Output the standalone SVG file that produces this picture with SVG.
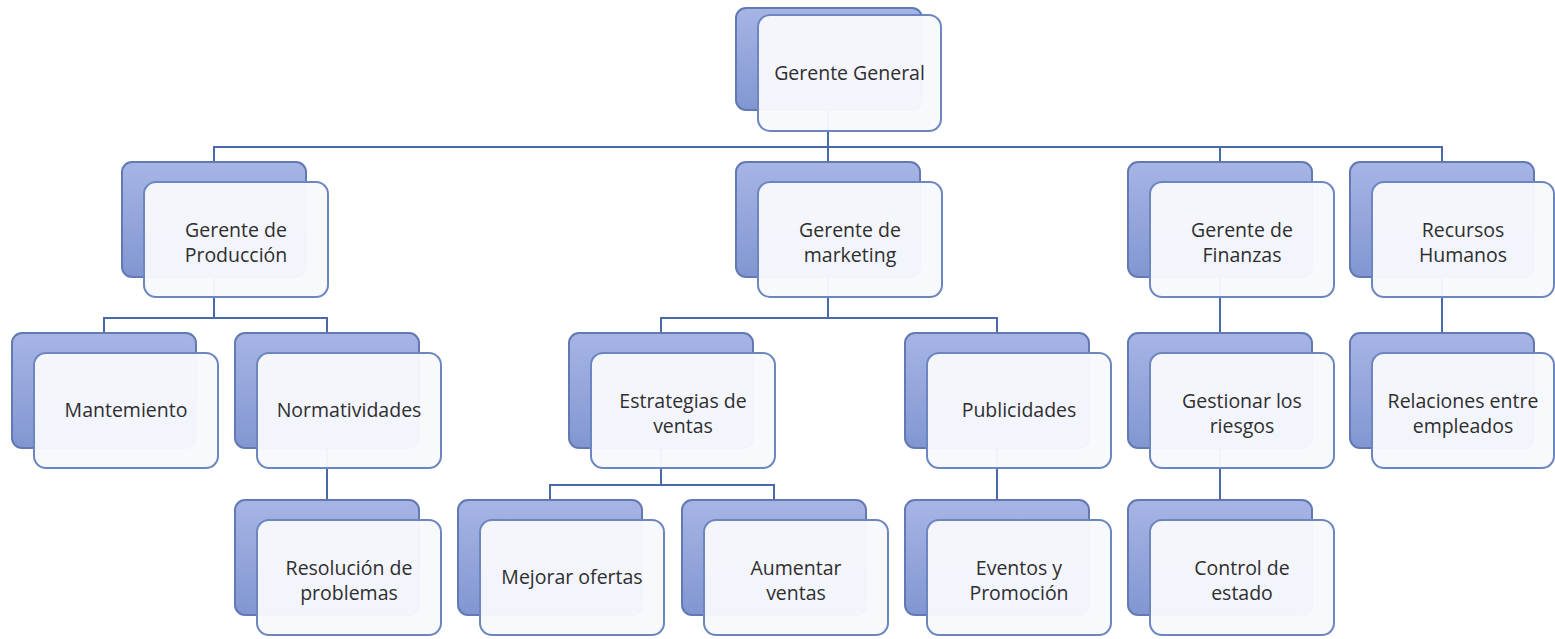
<svg xmlns="http://www.w3.org/2000/svg" width="1555" height="639" viewBox="0 0 1555 639">
<defs>
<linearGradient id="gBack" x1="0" y1="0" x2="0" y2="1">
<stop offset="0" stop-color="#a7b5e5"/>
<stop offset="1" stop-color="#8196d1"/>
</linearGradient>
<style>
.back{fill:url(#gBack);stroke:#6279b4;stroke-width:2}
.front{fill:#f8f9fd;fill-opacity:0.96;stroke:#6c86c0;stroke-width:2}
.lbl{font-family:"Open Sans","Noto Sans",sans-serif;font-size:19.5px;fill:#2e2e2e;text-anchor:middle}
.conn{fill:none;stroke:#4a69a8;stroke-width:2}
</style>
</defs>
<rect width="1555" height="639" fill="#ffffff"/>
<g id="connectors" class="conn">
<path d="M828,110 V147 M214,162 V147 H1442 V162 M828,147 V162 M1220,147 V162"/>
<path d="M214,277 V318 M104,333 V318 H327 V333"/>
<path d="M828,277 V318 M661,333 V318 H997 V333"/>
<path d="M1220,277 V333 M1442,277 V333"/>
<path d="M327,448 V500 M997,448 V500 M1220,448 V500"/>
<path d="M661,448 V485 M550,500 V485 H774 V500"/>
</g>
<g id="n-general"><rect class="back" x="736" y="8" width="186" height="102" rx="10"/><rect class="front" x="758" y="15" width="183" height="116" rx="12"/><text class="lbl" x="849.5" y="80">Gerente General</text></g>
<g id="n-produccion"><rect class="back" x="122" y="162" width="184" height="115" rx="10"/><rect class="front" x="144" y="182" width="184" height="115" rx="12"/><text class="lbl" x="236" y="237">Gerente de</text><text class="lbl" x="236" y="262">Producción</text></g>
<g id="n-marketing"><rect class="back" x="736" y="162" width="184" height="115" rx="10"/><rect class="front" x="758" y="182" width="184" height="115" rx="12"/><text class="lbl" x="850" y="237">Gerente de</text><text class="lbl" x="850" y="262">marketing</text></g>
<g id="n-finanzas"><rect class="back" x="1128" y="162" width="184" height="115" rx="10"/><rect class="front" x="1150" y="182" width="184" height="115" rx="12"/><text class="lbl" x="1242" y="237">Gerente de</text><text class="lbl" x="1242" y="262">Finanzas</text></g>
<g id="n-rrhh"><rect class="back" x="1350" y="162" width="184" height="115" rx="10"/><rect class="front" x="1372" y="182" width="182" height="115" rx="12"/><text class="lbl" x="1463" y="237">Recursos</text><text class="lbl" x="1463" y="262">Humanos</text></g>
<g id="n-mantemiento"><rect class="back" x="12" y="333" width="184" height="115" rx="10"/><rect class="front" x="34" y="353" width="184" height="115" rx="12"/><text class="lbl" x="126" y="417">Mantemiento</text></g>
<g id="n-normatividades"><rect class="back" x="235" y="333" width="184" height="115" rx="10"/><rect class="front" x="257" y="353" width="184" height="115" rx="12"/><text class="lbl" x="349" y="417">Normatividades</text></g>
<g id="n-estrategias"><rect class="back" x="569" y="333" width="184" height="115" rx="10"/><rect class="front" x="591" y="353" width="184" height="115" rx="12"/><text class="lbl" x="683" y="408">Estrategias de</text><text class="lbl" x="683" y="433">ventas</text></g>
<g id="n-publicidades"><rect class="back" x="905" y="333" width="184" height="115" rx="10"/><rect class="front" x="927" y="353" width="184" height="115" rx="12"/><text class="lbl" x="1019" y="417">Publicidades</text></g>
<g id="n-gestionar"><rect class="back" x="1128" y="333" width="184" height="115" rx="10"/><rect class="front" x="1150" y="353" width="184" height="115" rx="12"/><text class="lbl" x="1242" y="408">Gestionar los</text><text class="lbl" x="1242" y="433">riesgos</text></g>
<g id="n-relaciones"><rect class="back" x="1350" y="333" width="184" height="115" rx="10"/><rect class="front" x="1372" y="353" width="182" height="115" rx="12"/><text class="lbl" x="1463" y="408">Relaciones entre</text><text class="lbl" x="1463" y="433">empleados</text></g>
<g id="n-resolucion"><rect class="back" x="235" y="500" width="184" height="115" rx="10"/><rect class="front" x="257" y="520" width="184" height="115" rx="12"/><text class="lbl" x="349" y="575">Resolución de</text><text class="lbl" x="349" y="600">problemas</text></g>
<g id="n-mejorar"><rect class="back" x="458" y="500" width="184" height="115" rx="10"/><rect class="front" x="480" y="520" width="184" height="115" rx="12"/><text class="lbl" x="572" y="584">Mejorar ofertas</text></g>
<g id="n-aumentar"><rect class="back" x="682" y="500" width="184" height="115" rx="10"/><rect class="front" x="704" y="520" width="184" height="115" rx="12"/><text class="lbl" x="796" y="575">Aumentar</text><text class="lbl" x="796" y="600">ventas</text></g>
<g id="n-eventos"><rect class="back" x="905" y="500" width="184" height="115" rx="10"/><rect class="front" x="927" y="520" width="184" height="115" rx="12"/><text class="lbl" x="1019" y="575">Eventos y</text><text class="lbl" x="1019" y="600">Promoción</text></g>
<g id="n-control"><rect class="back" x="1128" y="500" width="184" height="115" rx="10"/><rect class="front" x="1150" y="520" width="184" height="115" rx="12"/><text class="lbl" x="1242" y="575">Control de</text><text class="lbl" x="1242" y="600">estado</text></g>
</svg>
